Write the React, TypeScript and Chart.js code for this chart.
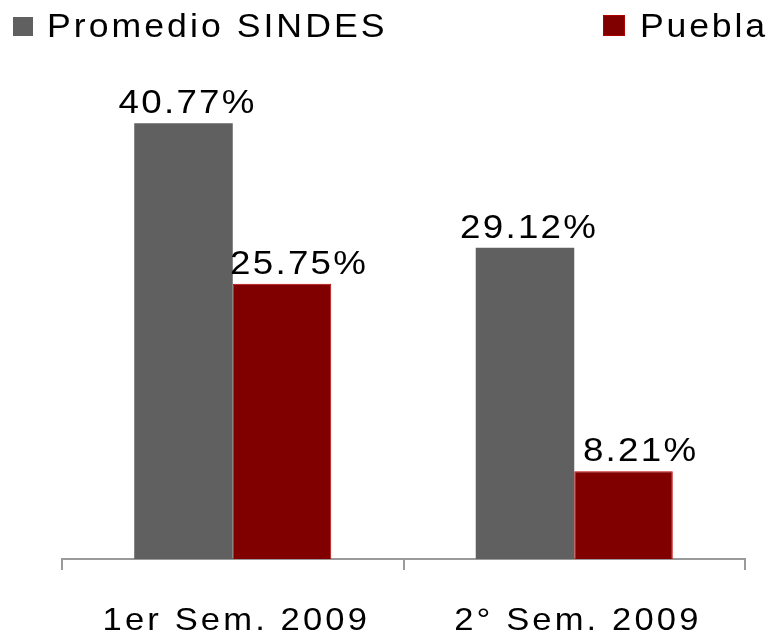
import React, { useEffect, useRef } from "react";
import { Chart, registerables } from "chart.js";

Chart.register(...registerables);

const categories = ["1er Sem. 2009", "2° Sem. 2009"];
const seriesNames = ["Promedio SINDES", "Puebla"];
const promedioValues = [40.77, 29.12];
const pueblaValues = [25.75, 8.21];
const valueLabels = [
  ["40.77%", "29.12%"],
  ["25.75%", "8.21%"],
];

const FONT = "'Liberation Sans', Arial, sans-serif";
const GREY = "#606060";
const RED = "#800000";

function wideText(ctx: any, text: string, x: number, y: number, sx: number, ls: number, align: string) {
  ctx.save();
  ctx.translate(x + (align === "center" ? (ls * sx) / 2 : 0), y);
  ctx.scale(sx, 1);
  ctx.letterSpacing = `${ls}px`;
  ctx.textAlign = align;
  ctx.fillText(text, 0, 0);
  ctx.restore();
}

const customDraw = {
  id: "customDraw",
  afterDraw(chart: any) {
    const ctx = chart.ctx;
    ctx.save();
    ctx.fillStyle = "#000";
    ctx.textBaseline = "alphabetic";

    // Legend
    ctx.font = `33px ${FONT}`;
    ctx.fillStyle = GREY;
    ctx.fillRect(13, 17, 20, 19);
    ctx.fillStyle = RED;
    ctx.fillRect(603, 15, 22, 21);
    ctx.strokeStyle = "#b00000";
    ctx.lineWidth = 1;
    ctx.strokeRect(603.5, 15.5, 21, 20);
    ctx.fillStyle = "#000";
    wideText(ctx, seriesNames[0], 47, 37, 1.08, 2.8, "left");
    wideText(ctx, seriesNames[1], 640, 37, 1.08, 2.6, "left");

    // Value labels
    ctx.font = `34px ${FONT}`;
    const offsets = [3, 16];
    chart.data.datasets.forEach((ds: any, di: number) => {
      const meta = chart.getDatasetMeta(di);
      meta.data.forEach((bar: any, i: number) => {
        wideText(ctx, valueLabels[di][i], bar.x + offsets[di], bar.y - 10, 1.08, 2.1, "center");
      });
    });

    // Category labels
    ctx.font = `32px ${FONT}`;
    const xScale = chart.scales.x;
    categories.forEach((c, i) => {
      wideText(ctx, c, xScale.getPixelForValue(i) + 2, 630, 1.08, 2.9, "center");
    });
    ctx.restore();
  },
};

export default function App() {
  const ref = useRef<HTMLCanvasElement>(null);
  useEffect(() => {
    if (!ref.current) return;
    const chart = new Chart(ref.current, {
      type: "bar",
      data: {
        labels: categories,
        datasets: [
          {
            label: seriesNames[0],
            data: promedioValues,
            backgroundColor: GREY,
            borderWidth: 0,
          },
          {
            label: seriesNames[1],
            data: pueblaValues,
            backgroundColor: RED,
            borderColor: "#c00000",
            borderWidth: 1,
          },
        ],
      },
      options: {
        animation: false,
        responsive: false,
        devicePixelRatio: 1,
        datasets: { bar: { categoryPercentage: 0.577, barPercentage: 1 } },
        layout: { padding: { left: 62, right: 24, top: 78, bottom: 63 } },
        plugins: { legend: { display: false }, tooltip: { enabled: false } },
        scales: {
          y: { display: false, min: 0, max: 45 },
          x: {
            ticks: { display: false },
            grid: {
              drawOnChartArea: false,
              drawTicks: true,
              tickLength: 11,
              color: "#9a9a9a",
              lineWidth: 2,
              offset: true,
            },
            border: { display: true, color: "#9a9a9a", width: 2 },
          },
        },
      },
      plugins: [customDraw],
    });
    return () => chart.destroy();
  }, []);
  return (
    <div style={{ position: "fixed", left: 0, top: 0, width: 769, height: 633, background: "#fff" }}>
      <canvas ref={ref} width={769} height={633} />
    </div>
  );
}
